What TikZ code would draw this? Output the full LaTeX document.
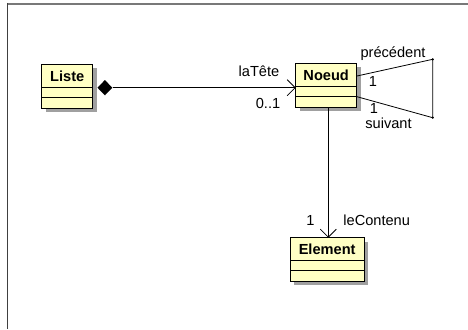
\documentclass[tikz,border=0pt]{standalone}
\usepackage{fontspec}
\setmainfont{Liberation Sans}
\usetikzlibrary{arrows.meta,shapes.geometric}
\definecolor{umlfill}{RGB}{255,255,196}
\definecolor{umlshadow}{RGB}{160,160,160}
\definecolor{framegray}{RGB}{120,120,120}
\tikzset{
  lbl/.style={font=\fontsize{14.6}{14.6}\selectfont, inner sep=0pt},
  ttl/.style={font=\bfseries\fontsize{14.6}{14.6}\selectfont, inner sep=0pt},
  assoc/.style={draw=black, line width=0.8pt},
  openhead/.style={-{Straight Barb[length=8pt,width=16pt,line width=0.8pt]}},
  dot/.style={circle, fill=black, inner sep=0pt, minimum size=2.5pt},
}
% \umlbox{name}{x1}{y1}{x2}{y2}{d1}{d2}{title}
\newcommand{\umlbox}[8]{%
  \fill[umlshadow] (#2+4,#3+4) rectangle (#4+4,#5+4);
  \draw[fill=umlfill, line width=0.9pt] (#2,#3) rectangle (#4,#5);
  \draw[line width=0.8pt] (#2,#6) -- (#4,#6);
  \draw[line width=0.8pt] (#2,#7) -- (#4,#7);
  \coordinate (#1-nw) at (#2,#3);
  \coordinate (#1-se) at (#4,#5);
  \node[ttl] (#1-t) at ({(#2+#4)/2},{(#3+#6)/2+0.5}) {#8};
}
\begin{document}
\begin{tikzpicture}[x=1pt,y=-1pt]
\useasboundingbox (0,0) rectangle (468,329);
\fill[white] (0,0) rectangle (468,329);
% frame
\draw[framegray, line width=1.6pt] (7,3.8) -- (468,3.8);
\draw[black!75, line width=1.4pt] (7.5,3) -- (7.5,329);

\umlbox{liste}{41.7}{64.3}{92.7}{108.3}{87.7}{97.7}{Liste}
\umlbox{noeud}{295.7}{63}{356.7}{107}{86}{96.3}{Noeud}
\umlbox{elem}{290.3}{237.7}{364}{281}{260.7}{270.7}{Element}

% composition Liste -> Noeud
\node[diamond, fill=black, inner sep=0pt, minimum width=15pt, minimum height=15.5pt, anchor=west] (dia) at (97.2,87.7) {};
\coordinate (nl) at (295.7,87.7);
\draw[assoc, openhead] (dia.east) -- (nl);
\node[lbl] (latete) at (259,71) {laTête};
\node[lbl] (zo) at (268,103) {0..1};

% self association
\coordinate (sa) at (357,76);
\coordinate (sb) at (357,96.7);
\node[dot] (c1) at (432.7,59.3) {};
\node[dot] (c2) at (432.7,117.7) {};
\draw[assoc] (sa) -- (c1.center) -- (c2.center) -- (sb);
\node[lbl] (prec) at (393,53.3) {précédent};
\node[lbl] (one1) at (373,81.3) {1};
\node[lbl] (one2) at (374,108.5) {1};
\node[lbl] (suiv) at (388.5,123.3) {suivant};

% Noeud -> Element
\coordinate (nb) at (328.3,107);
\coordinate (et) at (328.3,237.7);
\draw[assoc, openhead] (nb) -- (et);
\node[lbl] (one3) at (310.5,220) {1};
\node[lbl] (lec) at (376.7,220) {leContenu};
\end{tikzpicture}
\end{document}
